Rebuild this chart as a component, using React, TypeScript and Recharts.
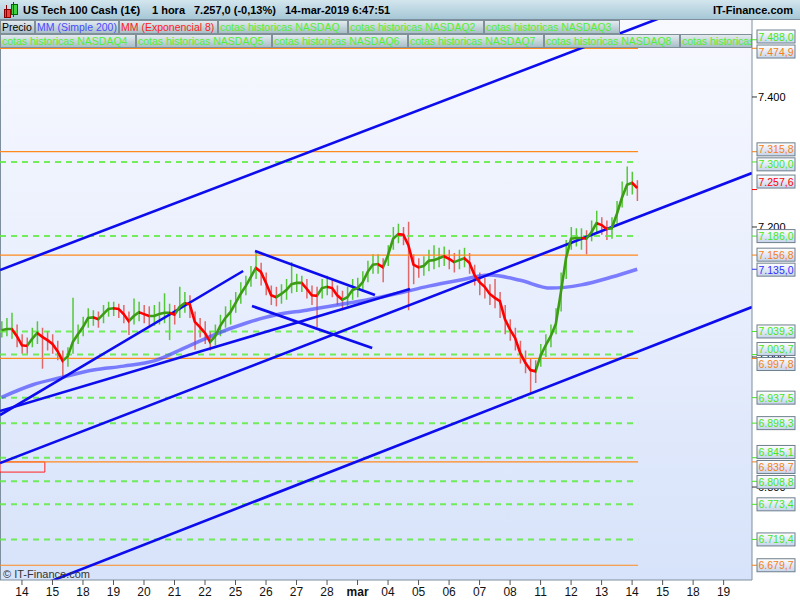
import React from "react";
import { ComposedChart, Line, Bar, Cell, XAxis, YAxis, ReferenceLine, ReferenceArea } from "recharts";

// layout
const W = 800;
const H = 600;
const PLOT_TOP = 20;
const AXIS_W = 48;
const X_AXIS_H = 20;
const PLOT_RIGHT = W - AXIS_W;
const PLOT_BOTTOM = H - X_AXIS_H;
const FONT = "'Liberation Sans', Arial, sans-serif";

// x = trading-day index (0 = 14 feb 00:00), y = price
const X_MIN = -0.72;
const X_MAX = 23.93;
const Y_MIN = 6657;
const Y_MAX = 7518.4;

const DAY_LABELS = ["14", "15", "18", "19", "20", "21", "22", "25", "26", "27", "28", "mar", "04", "05", "06", "07", "08", "11", "12", "13", "14", "15", "18", "19"];
const DAY_TICKS = DAY_LABELS.map((_, i) => i);

// 4-hour samples starting 13-feb 08:00
const START_DAY = -16 / 24;
const STEP_DAY = 4 / 24;

const EMA8 = [
  7041, 7043, 7043, 7032, 7018, 7017, 7028, 7037, 7031, 7026,
  7020, 7009, 6994, 7001, 7023, 7035, 7046, 7060, 7061, 7058,
  7066, 7074, 7075, 7074, 7066, 7055, 7063, 7069, 7066, 7063,
  7063, 7066, 7068, 7068, 7065, 7077, 7083, 7081, 7054, 7046,
  7037, 7023, 7032, 7048, 7060, 7069, 7083, 7097, 7109, 7123,
  7137, 7131, 7114, 7095, 7092, 7097, 7103, 7112, 7114, 7114,
  7105, 7095, 7094, 7106, 7108, 7106, 7095, 7088, 7092, 7103,
  7106, 7115, 7131, 7142, 7143, 7138, 7157, 7182, 7189, 7188,
  7172, 7142, 7138, 7140, 7148, 7149, 7152, 7155, 7151, 7146,
  7149, 7152, 7145, 7126, 7115, 7108, 7097, 7091, 7086, 7058,
  7042, 7029, 7006, 6991, 6980, 6978, 7002, 7018, 7032, 7051,
  7100, 7152, 7182, 7183, 7183, 7182, 7192, 7206, 7203, 7197,
  7198, 7220, 7245, 7265, 7268, 7260,
];

const HIGHS = [
  7055, 7060, 7068, 7050, 7035, 7030, 7045, 7055, 7045, 7040,
  7035, 7025, 7010, 7015, 7091, 7050, 7062, 7075, 7072, 7070,
  7080, 7085, 7085, 7082, 7080, 7070, 7090, 7085, 7080, 7078,
  7080, 7085, 7098, 7082, 7080, 7108, 7100, 7095, 7070, 7060,
  7055, 7040, 7050, 7065, 7078, 7088, 7100, 7115, 7125, 7140,
  7161, 7145, 7130, 7110, 7108, 7112, 7120, 7146, 7128, 7125,
  7120, 7110, 7108, 7120, 7125, 7120, 7110, 7102, 7108, 7120,
  7122, 7132, 7148, 7158, 7158, 7152, 7172, 7200, 7205, 7200,
  7208, 7158, 7152, 7155, 7165, 7172, 7168, 7170, 7165, 7160,
  7165, 7168, 7160, 7142, 7130, 7122, 7112, 7120, 7100, 7080,
  7058, 7045, 7025, 7010, 6998, 6995, 7020, 7035, 7050, 7075,
  7130, 7180, 7200, 7198, 7198, 7195, 7210, 7225, 7215, 7210,
  7215, 7240, 7270, 7293, 7285, 7272,
];

const LOWS = [
  7030, 7032, 7028, 7015, 7005, 7005, 7015, 7020, 6982, 7010,
  7005, 6995, 6970, 6985, 7005, 7020, 7032, 7045, 7048, 7045,
  7052, 7062, 7063, 7060, 7052, 7034, 7050, 7055, 7052, 7048,
  7048, 7050, 7052, 7026, 7050, 7060, 7068, 7060, 7011, 7030,
  7020, 7010, 7018, 7032, 7045, 7050, 7068, 7082, 7095, 7108,
  7120, 7110, 7095, 7080, 7078, 7082, 7088, 7098, 7100, 7100,
  7090, 7080, 7046, 7090, 7095, 7092, 7080, 7072, 7078, 7088,
  7092, 7100, 7115, 7128, 7128, 7115, 7140, 7165, 7175, 7172,
  7072, 7112, 7122, 7125, 7132, 7135, 7138, 7140, 7135, 7130,
  7135, 7138, 7128, 7110, 7095, 7090, 7080, 7075, 7060, 7035,
  7025, 7010, 6990, 6975, 6944, 6960, 6985, 7000, 7015, 7035,
  7070, 7120, 7165, 7170, 7165, 7158, 7178, 7192, 7188, 7180,
  7182, 7205, 7230, 7248, 7250, 7240,
];

// simple 200 moving average, one reading per day (every 6th sample) plus the last one
const SMA200 = [6938, 6957, 6969, 6980, 6986, 6994, 7014, 7035, 7052, 7065, 7072, 7080, 7088, 7098, 7109, 7118, 7126, 7118, 7106, 7111, 7123, 7135];
const SMA200_IDX = [0, 6, 12, 18, 24, 30, 36, 42, 48, 54, 60, 66, 72, 78, 84, 90, 96, 102, 108, 114, 120, 125];

const GREEN_LEVELS = [7488.0, 7300.0, 7186.0, 7039.3, 7003.7, 6937.5, 6898.3, 6845.1, 6808.8, 6773.4, 6719.4];
const ORANGE_LEVELS = [7474.9, 7315.8, 7156.8, 6997.8, 6838.7, 6679.7];
const LAST_PRICE = 7257.6;
const SMA_LAST = 7135.0;
const AXIS_TICKS = [7400, 7200, 7000, 6800];

// drawn trend lines: [day1, price1, day2, price2]
const TREND_LINES = [
  [-0.72, 7133.8, 20.92, 7521.5],
  [-0.72, 6836.9, 23.93, 7283.0],
  [-0.72, 6624.6, 23.93, 7076.9],
  [-0.72, 6910.7, 7.25, 7132.3],
  [-0.72, 6916.9, 12.72, 7104.6],
  [7.64, 7163.0, 11.57, 7095.4],
  [7.54, 7078.4, 11.48, 7013.8],
];
const RED_BOX = [-0.72, 0.75, 6823, 6838.7];

const LEGEND_ROW1 = [
  { text: "Precio", color: "#000", w: 35 },
  { text: "MM (Simple 200)", color: "#4a4aff", w: 84 },
  { text: "MM (Exponencial 8)", color: "#ff2020", w: 99 },
  { text: "cotas historicas NASDAQ", color: "#55ee33", w: 130 },
  { text: "cotas historicas NASDAQ2", color: "#55ee33", w: 136 },
  { text: "cotas historicas NASDAQ3", color: "#55ee33", w: 136 },
];
const LEGEND_ROW2 = [
  { text: "cotas historicas NASDAQ4", color: "#55ee33", w: 136 },
  { text: "cotas historicas NASDAQ5", color: "#55ee33", w: 136 },
  { text: "cotas historicas NASDAQ6", color: "#55ee33", w: 136 },
  { text: "cotas historicas NASDAQ7", color: "#55ee33", w: 136 },
  { text: "cotas historicas NASDAQ8", color: "#55ee33", w: 136 },
  { text: "cotas historicas NASDAQ9", color: "#55ee33", w: 136 },
];

const EMA_UP = "#3c9c14";
const EMA_DOWN = "#ff0000";
const LEVEL_GREEN = "#5cec3c";
const LEVEL_ORANGE = "#ff8a1e";
const TREND_BLUE = "#0c0cee";

const data = EMA8.map((v, i) => {
  const k = SMA200_IDX.indexOf(i);
  return {
    t: START_DAY + i * STEP_DAY,
    ema: v,
    range: [LOWS[i], HIGHS[i]],
    up: i === 0 ? true : v >= EMA8[i - 1],
    sma: k >= 0 ? SMA200[k] : null,
  };
});

const fmt = (v: number, d: number) => {
  const [i, f] = v.toFixed(d).split(".");
  const ii = i.replace(/\B(?=(\d{3})+(?!\d))/g, ".");
  return f ? `${ii},${f}` : ii;
};

const py = (v: number) => PLOT_TOP + ((Y_MAX - v) / (Y_MAX - Y_MIN)) * (PLOT_BOTTOM - PLOT_TOP);

type Lab = { value: number; color: string; last?: boolean };
const LABELS: Lab[] = [
  ...GREEN_LEVELS.map((v) => ({ value: v, color: "#44e622" })),
  ...ORANGE_LEVELS.map((v) => ({ value: v, color: "#f57f12" })),
  { value: LAST_PRICE, color: "#ff0000", last: true },
  { value: SMA_LAST, color: "#3030ff" },
];

// push overlapping price boxes apart
function layoutLabels(labels: Lab[]) {
  const GAP = 15;
  const items = labels.map((l) => ({ ...l, want: py(l.value) - (l.last ? 8 : 0) })).sort((a, b) => a.want - b.want);
  const groups = items.map((it) => ({ members: [it], center: it.want }));
  let changed = true;
  while (changed) {
    changed = false;
    for (let i = 0; i < groups.length - 1; i++) {
      const a = groups[i];
      const b = groups[i + 1];
      const aBottom = a.center + ((a.members.length - 1) * GAP) / 2;
      const bTop = b.center - ((b.members.length - 1) * GAP) / 2;
      if (bTop - aBottom < GAP) {
        const members = [...a.members, ...b.members];
        const center = members.reduce((s, m) => s + m.want, 0) / members.length;
        groups.splice(i, 2, { members, center });
        changed = true;
        break;
      }
    }
  }
  const out = new Map<number, { color: string; dy: number }>();
  groups.forEach((g) =>
    g.members.forEach((m, k) => {
      const y = g.center + (k - (g.members.length - 1) / 2) * GAP;
      out.set(m.value, { color: m.color, dy: y - py(m.value) });
    })
  );
  return out;
}
const LABEL_POS = layoutLabels(LABELS);

function PriceTick(props: any) {
  const { y, payload } = props;
  const v = payload.value as number;
  const lab = LABEL_POS.get(v);
  if (!lab) {
    return (
      <g>
        <line x1={PLOT_RIGHT} x2={PLOT_RIGHT + 5} y1={y} y2={y} stroke="#333" />
        <text x={PLOT_RIGHT + 6} y={y + 4} fontSize={11} fontFamily={FONT} fill="#000">
          {fmt(v, 0)}
        </text>
      </g>
    );
  }
  const by = y + lab.dy;
  return (
    <g>
      <line x1={PLOT_RIGHT} x2={PLOT_RIGHT + 5} y1={y} y2={y} stroke={lab.color} />
      <rect x={PLOT_RIGHT + 5} y={by - 6.5} width={38} height={13} fill="url(#boxGrad)" stroke="#6d7f8c" />
      <text x={PLOT_RIGHT + 6.5} y={by + 4} fontSize={11} fontFamily={FONT} fill={lab.color} textLength={35} lengthAdjust="spacingAndGlyphs">
        {fmt(v, 1)}
      </text>
    </g>
  );
}

function DayTick(props: any) {
  const { x, y, payload } = props;
  const label = DAY_LABELS[payload.value];
  return (
    <text x={x} y={y + 9} textAnchor="middle" fontSize={12} fontFamily={FONT} fontWeight={label === "mar" ? "bold" : "normal"} fill="#111">
      {label}
    </text>
  );
}

function Tab({ text, color, w, left, top }: { text: string; color: string; w: number; left: number; top: number }) {
  return (
    <div
      style={{
        position: "absolute",
        left,
        top,
        width: w,
        height: 14,
        boxSizing: "border-box",
        border: "1px solid #7f9099",
        background: "linear-gradient(#e3ebef, #a9bec8)",
        color,
        fontSize: 10.5,
        lineHeight: "12px",
        paddingLeft: 1,
        whiteSpace: "nowrap",
        overflow: "hidden",
      }}
    >
      {text}
    </div>
  );
}

export default function App() {
  let acc1 = 0;
  let acc2 = 0;
  const lastT = data[data.length - 1].t + 0.03;
  const n = EMA8.length - 1;
  return (
    <div style={{ position: "absolute", left: 0, top: 0, width: W, height: H, background: "#fff", fontFamily: FONT, overflow: "hidden" }}>
      <div
        style={{
          position: "absolute",
          left: 0,
          top: PLOT_TOP,
          width: PLOT_RIGHT,
          height: PLOT_BOTTOM - PLOT_TOP,
          boxSizing: "border-box",
          borderLeft: "1px solid #7d8f9c",
          background: "linear-gradient(#f8f9ff, #d7e3fa)",
        }}
      />
      <div style={{ position: "absolute", left: 0, top: 0 }}>
        <ComposedChart width={W} height={H} data={data} margin={{ top: PLOT_TOP, right: 0, bottom: 0, left: 0 }}>
          <defs>
            <linearGradient id="boxGrad" x1="0" y1="0" x2="0" y2="1">
              <stop offset="0" stopColor="#ffffff" />
              <stop offset="1" stopColor="#c6d3ea" />
            </linearGradient>
            <linearGradient id="emaGrad" x1="0" y1="0" x2="1" y2="0">
              {EMA8.slice(1).flatMap((v, k) => {
                const c = v >= EMA8[k] ? EMA_UP : EMA_DOWN;
                return [
                  <stop key={`a${k}`} offset={k / n} stopColor={c} />,
                  <stop key={`b${k}`} offset={(k + 1) / n} stopColor={c} />,
                ];
              })}
            </linearGradient>
          </defs>
          <XAxis
            dataKey="t"
            type="number"
            domain={[X_MIN, X_MAX]}
            allowDataOverflow
            ticks={DAY_TICKS}
            interval={0}
            height={X_AXIS_H}
            tickSize={5}
            tickLine={{ stroke: "#555" }}
            axisLine={{ stroke: "#7d8f9c" }}
            tick={<DayTick />}
          />
          <YAxis
            orientation="right"
            type="number"
            domain={[Y_MIN, Y_MAX]}
            allowDataOverflow
            ticks={[...AXIS_TICKS, ...LABELS.map((l) => l.value)]}
            interval={0}
            width={AXIS_W}
            tickLine={false}
            axisLine={{ stroke: "#7d8f9c" }}
            tick={<PriceTick />}
          />
          {ORANGE_LEVELS.map((v) => (
            <ReferenceLine key={`o${v}`} segment={[{ x: X_MIN, y: v }, { x: lastT, y: v }]} stroke={LEVEL_ORANGE} strokeWidth={1.2} ifOverflow="hidden" />
          ))}
          {GREEN_LEVELS.map((v) => (
            <ReferenceLine key={`g${v}`} segment={[{ x: X_MIN, y: v }, { x: lastT, y: v }]} stroke={LEVEL_GREEN} strokeWidth={2} strokeDasharray="6 5" strokeOpacity={0.85} ifOverflow="hidden" />
          ))}
          <ReferenceArea x1={RED_BOX[0]} x2={RED_BOX[1]} y1={RED_BOX[2]} y2={RED_BOX[3]} fill="#e2e9fb" fillOpacity={1} stroke="#ff2020" strokeWidth={1} ifOverflow="hidden" />
          <Line dataKey="sma" type="monotone" connectNulls stroke="#4b4bff" strokeOpacity={0.7} strokeWidth={3.5} dot={false} isAnimationActive={false} />
          {TREND_LINES.map((l, i) => (
            <ReferenceLine key={`t${i}`} segment={[{ x: l[0], y: l[1] }, { x: l[2], y: l[3] }]} stroke={TREND_BLUE} strokeWidth={2.6} ifOverflow="hidden" />
          ))}
          <Bar dataKey="range" barSize={1.5} isAnimationActive={false}>
            {data.map((d, i) => (
              <Cell key={i} fill={d.up ? "#55c83a" : "#e06868"} />
            ))}
          </Bar>
          <Line dataKey="ema" type="linear" stroke="url(#emaGrad)" strokeWidth={2.6} dot={false} isAnimationActive={false} />
        </ComposedChart>
      </div>

      {/* header bar */}
      <div
        style={{
          position: "absolute",
          left: 0,
          top: 0,
          width: W,
          height: 20,
          boxSizing: "border-box",
          borderBottom: "1px solid #7d8f9c",
          background: "linear-gradient(#d3e6ee, #a7c7d6)",
          fontSize: 11,
          fontWeight: "bold",
          lineHeight: "16px",
          color: "#000",
          whiteSpace: "nowrap",
        }}
      >
        <div style={{ position: "absolute", left: 4, top: 9, width: 5, height: 7, background: "#f04040", border: "1px solid #800" }} />
        <div style={{ position: "absolute", left: 6, top: 5, width: 1, height: 13, background: "#800" }} />
        <div style={{ position: "absolute", left: 11, top: 4, width: 5, height: 9, background: "#40d040", border: "1px solid #060" }} />
        <div style={{ position: "absolute", left: 13, top: 2, width: 1, height: 15, background: "#060" }} />
        <span style={{ position: "absolute", left: 23, top: 2 }}>US Tech 100 Cash (1€)</span>
        <span style={{ position: "absolute", left: 152, top: 2 }}>1 hora</span>
        <span style={{ position: "absolute", left: 194, top: 2 }}>7.257,0 (-0,13%)</span>
        <span style={{ position: "absolute", left: 285, top: 2 }}>14-mar-2019 6:47:51</span>
        <span style={{ position: "absolute", right: 7, top: 2 }}>IT-Finance.com</span>
      </div>

      {/* legend tabs */}
      {LEGEND_ROW1.map((t) => {
        const left = acc1;
        acc1 += t.w;
        return <Tab key={t.text} {...t} left={left} top={20} />;
      })}
      {LEGEND_ROW2.map((t) => {
        const left = acc2;
        acc2 += t.w;
        const w = Math.min(t.w, PLOT_RIGHT - left);
        return <Tab key={t.text} {...t} w={w} left={left} top={34} />;
      })}

      <div style={{ position: "absolute", left: 3, top: 568, fontSize: 11, color: "#333", lineHeight: "12px" }}>© IT-Finance.com</div>
    </div>
  );
}
